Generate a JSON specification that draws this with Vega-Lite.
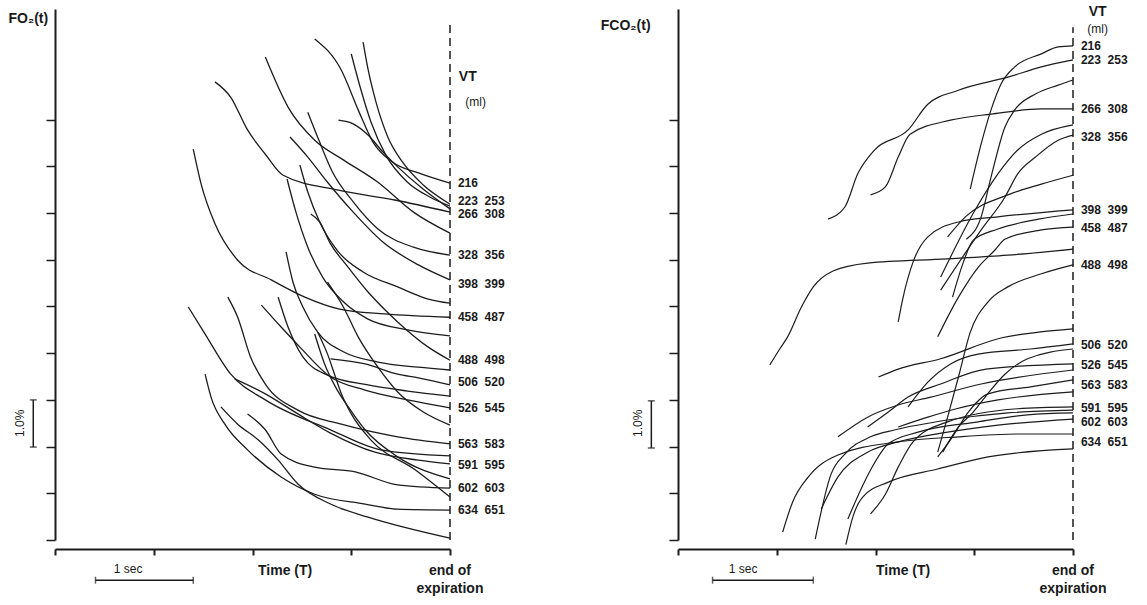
{
  "$schema": "https://vega.github.io/schema/vega-lite/v6.json",
  "background": "white",
  "padding": {"left": 8, "top": 5, "right": 5, "bottom": 5},
  "bounds": "flush",
  "spacing": 228,
  "config": {"view": {"stroke": null}, "font": "Liberation Sans", "text": {"font": "Liberation Sans", "fill": "#1a1a1a"}},
  "datasets": {
    "o2": [
      {"c":"L1","t":-1.37,"y":10.73},{"c":"L1","t":-1.10,"y":10.06},{"c":"L1","t":-0.93,"y":9.21},{"c":"L1","t":-0.78,"y":8.52},{"c":"L1","t":-0.58,"y":8.09},{"c":"L1","t":-0.32,"y":7.86},{"c":"L1","t":0,"y":7.64},
      {"c":"L2","t":-0.88,"y":10.66},{"c":"L2","t":-0.83,"y":10.08},{"c":"L2","t":-0.75,"y":9.38},{"c":"L2","t":-0.63,"y":8.63},{"c":"L2","t":-0.48,"y":8.09},{"c":"L2","t":-0.27,"y":7.60},{"c":"L2","t":0,"y":7.19},
      {"c":"L3","t":-1.00,"y":10.41},{"c":"L3","t":-0.91,"y":9.70},{"c":"L3","t":-0.80,"y":8.95},{"c":"L3","t":-0.65,"y":8.24},{"c":"L3","t":-0.43,"y":7.66},{"c":"L3","t":-0.20,"y":7.34},{"c":"L3","t":0,"y":7.15},
      {"c":"L4","t":-2.38,"y":9.81},{"c":"L4","t":-2.22,"y":9.48},{"c":"L4","t":-2.05,"y":8.78},{"c":"L4","t":-1.87,"y":8.26},{"c":"L4","t":-1.69,"y":7.81},{"c":"L4","t":-1.13,"y":7.49},{"c":"L4","t":-0.56,"y":7.28},{"c":"L4","t":0,"y":7.02},
      {"c":"L5","t":-1.87,"y":10.34},{"c":"L5","t":-1.64,"y":9.27},{"c":"L5","t":-1.37,"y":8.56},{"c":"L5","t":-1.08,"y":8.14},{"c":"L5","t":-0.73,"y":7.66},{"c":"L5","t":-0.37,"y":7.02},{"c":"L5","t":0,"y":6.57},
      {"c":"L6","t":-1.44,"y":9.16},{"c":"L6","t":-1.32,"y":8.52},{"c":"L6","t":-1.19,"y":7.88},{"c":"L6","t":-0.98,"y":7.24},{"c":"L6","t":-0.73,"y":6.66},{"c":"L6","t":-0.37,"y":6.27},{"c":"L6","t":0,"y":6.10},
      {"c":"L7","t":-1.62,"y":8.63},{"c":"L7","t":-1.44,"y":8.20},{"c":"L7","t":-1.24,"y":7.66},{"c":"L7","t":-0.98,"y":7.02},{"c":"L7","t":-0.68,"y":6.38},{"c":"L7","t":-0.32,"y":5.89},{"c":"L7","t":0,"y":5.57},
      {"c":"L8","t":-1.52,"y":8.03},{"c":"L8","t":-1.44,"y":7.45},{"c":"L8","t":-1.32,"y":6.81},{"c":"L8","t":-1.13,"y":6.17},{"c":"L8","t":-0.88,"y":5.74},{"c":"L8","t":-0.53,"y":5.42},{"c":"L8","t":-0.22,"y":5.16},{"c":"L8","t":0,"y":5.07},
      {"c":"L9","t":-2.60,"y":8.37},{"c":"L9","t":-2.52,"y":7.62},{"c":"L9","t":-2.38,"y":6.77},{"c":"L9","t":-2.15,"y":5.99},{"c":"L9","t":-1.81,"y":5.57},{"c":"L9","t":-1.47,"y":5.20},{"c":"L9","t":-1.13,"y":4.95},{"c":"L9","t":-0.66,"y":4.84},{"c":"L9","t":0,"y":4.77},
      {"c":"L10","t":-1.65,"y":7.73},{"c":"L10","t":-1.56,"y":7.02},{"c":"L10","t":-1.44,"y":6.27},{"c":"L10","t":-1.29,"y":5.63},{"c":"L10","t":-1.08,"y":5.10},{"c":"L10","t":-0.83,"y":4.73},{"c":"L10","t":-0.43,"y":4.50},{"c":"L10","t":0,"y":4.37},
      {"c":"L11","t":-1.41,"y":6.98},{"c":"L11","t":-1.32,"y":6.81},{"c":"L11","t":-1.21,"y":6.34},{"c":"L11","t":-1.05,"y":5.89},{"c":"L11","t":-0.83,"y":5.31},{"c":"L11","t":-0.53,"y":4.67},{"c":"L11","t":-0.22,"y":4.13},{"c":"L11","t":0,"y":3.85},
      {"c":"L12","t":-1.66,"y":6.17},{"c":"L12","t":-1.59,"y":5.52},{"c":"L12","t":-1.49,"y":4.99},{"c":"L12","t":-1.34,"y":4.45},{"c":"L12","t":-1.08,"y":4.03},{"c":"L12","t":-0.73,"y":3.81},{"c":"L12","t":-0.32,"y":3.70},{"c":"L12","t":0,"y":3.64},
      {"c":"L13","t":-1.13,"y":8.99},{"c":"L13","t":-0.98,"y":8.91},{"c":"L13","t":-0.83,"y":8.67},{"c":"L13","t":-0.68,"y":8.31},{"c":"L13","t":-0.53,"y":7.99},{"c":"L13","t":-0.27,"y":7.51},{"c":"L13","t":0,"y":7.09},
      {"c":"L14","t":-1.21,"y":3.88},{"c":"L14","t":-0.86,"y":3.77},{"c":"L14","t":-0.53,"y":3.55},{"c":"L14","t":-0.32,"y":3.47},{"c":"L14","t":0,"y":3.32},
      {"c":"L15","t":-1.74,"y":5.20},{"c":"L15","t":-1.64,"y":4.56},{"c":"L15","t":-1.49,"y":3.92},{"c":"L15","t":-1.24,"y":3.53},{"c":"L15","t":-0.83,"y":3.32},{"c":"L15","t":-0.43,"y":3.19},{"c":"L15","t":0,"y":3.08},
      {"c":"L16","t":-1.91,"y":5.03},{"c":"L16","t":-1.71,"y":4.56},{"c":"L16","t":-1.52,"y":4.13},{"c":"L16","t":-1.21,"y":3.49},{"c":"L16","t":-0.86,"y":3.21},{"c":"L16","t":-0.43,"y":3.00},{"c":"L16","t":0,"y":2.83},
      {"c":"L17","t":-1.24,"y":5.52},{"c":"L17","t":-1.08,"y":4.99},{"c":"L17","t":-0.93,"y":4.35},{"c":"L17","t":-0.73,"y":3.70},{"c":"L17","t":-0.53,"y":3.17},{"c":"L17","t":-0.27,"y":2.74},{"c":"L17","t":0,"y":2.46},
      {"c":"L18","t":-2.25,"y":5.20},{"c":"L18","t":-2.15,"y":4.77},{"c":"L18","t":-2.02,"y":3.92},{"c":"L18","t":-1.87,"y":3.34},{"c":"L18","t":-1.54,"y":2.78},{"c":"L18","t":-1.10,"y":2.48},{"c":"L18","t":-0.53,"y":2.21},{"c":"L18","t":0,"y":2.06},
      {"c":"L19","t":-2.65,"y":4.99},{"c":"L19","t":-2.48,"y":4.41},{"c":"L19","t":-2.22,"y":3.55},{"c":"L19","t":-1.87,"y":3.00},{"c":"L19","t":-1.21,"y":2.36},{"c":"L19","t":-0.70,"y":1.93},{"c":"L19","t":0,"y":1.80},
      {"c":"L20","t":-2.18,"y":3.45},{"c":"L20","t":-1.87,"y":3.13},{"c":"L20","t":-1.54,"y":2.70},{"c":"L20","t":-1.21,"y":2.29},{"c":"L20","t":-0.76,"y":1.88},{"c":"L20","t":-0.32,"y":1.71},{"c":"L20","t":0,"y":1.63},
      {"c":"L21","t":-1.37,"y":4.41},{"c":"L21","t":-1.27,"y":3.77},{"c":"L21","t":-1.16,"y":3.28},{"c":"L21","t":-1.03,"y":2.85},{"c":"L21","t":-0.86,"y":2.36},{"c":"L21","t":-0.53,"y":1.78},{"c":"L21","t":0,"y":1.31},
      {"c":"L22","t":-2.05,"y":2.70},{"c":"L22","t":-1.87,"y":2.36},{"c":"L22","t":-1.71,"y":1.84},{"c":"L22","t":-1.37,"y":1.56},{"c":"L22","t":-0.96,"y":1.46},{"c":"L22","t":-0.53,"y":1.18},{"c":"L22","t":0,"y":1.11},
      {"c":"L23","t":-1.34,"y":4.45},{"c":"L23","t":-1.24,"y":3.98},{"c":"L23","t":-1.16,"y":3.49},{"c":"L23","t":-1.10,"y":3.13},{"c":"L23","t":-1.00,"y":2.70},{"c":"L23","t":-0.80,"y":2.14},{"c":"L23","t":-0.35,"y":1.50},{"c":"L23","t":0,"y":0.92},
      {"c":"L24","t":-2.48,"y":3.55},{"c":"L24","t":-2.42,"y":3.06},{"c":"L24","t":-2.28,"y":2.48},{"c":"L24","t":-2.05,"y":1.93},{"c":"L24","t":-1.71,"y":1.35},{"c":"L24","t":-1.37,"y":0.98},{"c":"L24","t":-0.86,"y":0.77},{"c":"L24","t":-0.53,"y":0.66},{"c":"L24","t":0,"y":0.64},
      {"c":"L25","t":-2.32,"y":2.85},{"c":"L25","t":-2.15,"y":2.48},{"c":"L25","t":-1.94,"y":2.14},{"c":"L25","t":-1.74,"y":1.71},{"c":"L25","t":-1.54,"y":1.20},{"c":"L25","t":-1.21,"y":0.77},{"c":"L25","t":-0.83,"y":0.49},{"c":"L25","t":0,"y":0.04}
    ],
    "co2": [
      {"c":"R1","t":-1.04,"y":7.52},{"c":"R1","t":-0.93,"y":8.48},{"c":"R1","t":-0.83,"y":9.21},{"c":"R1","t":-0.73,"y":9.76},{"c":"R1","t":-0.59,"y":10.13},{"c":"R1","t":-0.32,"y":10.41},{"c":"R1","t":-0.15,"y":10.56},{"c":"R1","t":0,"y":10.58},
      {"c":"R2","t":-2.48,"y":6.87},{"c":"R2","t":-2.31,"y":7.13},{"c":"R2","t":-2.18,"y":7.84},{"c":"R2","t":-2.01,"y":8.35},{"c":"R2","t":-1.67,"y":8.78},{"c":"R2","t":-1.47,"y":9.33},{"c":"R2","t":-1.16,"y":9.63},{"c":"R2","t":-0.66,"y":9.91},{"c":"R2","t":-0.32,"y":10.13},{"c":"R2","t":0,"y":10.28},
      {"c":"R3","t":-2.05,"y":7.39},{"c":"R3","t":-1.90,"y":7.56},{"c":"R3","t":-1.77,"y":8.20},{"c":"R3","t":-1.65,"y":8.69},{"c":"R3","t":-1.24,"y":8.99},{"c":"R3","t":-0.83,"y":9.12},{"c":"R3","t":-0.32,"y":9.23},{"c":"R3","t":0,"y":9.23},
      {"c":"R4","t":-1.08,"y":6.44},{"c":"R4","t":-0.93,"y":6.92},{"c":"R4","t":-0.83,"y":7.77},{"c":"R4","t":-0.69,"y":8.84},{"c":"R4","t":-0.59,"y":9.21},{"c":"R4","t":-0.38,"y":9.55},{"c":"R4","t":-0.15,"y":9.74},{"c":"R4","t":0,"y":9.85},
      {"c":"R5","t":-1.34,"y":5.63},{"c":"R5","t":-0.99,"y":7.07},{"c":"R5","t":-0.76,"y":7.84},{"c":"R5","t":-0.56,"y":8.35},{"c":"R5","t":-0.32,"y":8.69},{"c":"R5","t":0,"y":8.89},
      {"c":"R6","t":-1.34,"y":5.35},{"c":"R6","t":-0.93,"y":6.64},{"c":"R6","t":-0.69,"y":7.34},{"c":"R6","t":-0.56,"y":7.84},{"c":"R6","t":-0.38,"y":8.20},{"c":"R6","t":-0.15,"y":8.56},{"c":"R6","t":0,"y":8.67},
      {"c":"R7","t":-1.27,"y":6.49},{"c":"R7","t":-1.09,"y":6.92},{"c":"R7","t":-0.66,"y":7.39},{"c":"R7","t":-0.32,"y":7.62},{"c":"R7","t":0,"y":7.81},
      {"c":"R8","t":-1.77,"y":4.67},{"c":"R8","t":-1.72,"y":5.20},{"c":"R8","t":-1.62,"y":5.95},{"c":"R8","t":-1.47,"y":6.49},{"c":"R8","t":-1.16,"y":6.81},{"c":"R8","t":-0.76,"y":6.92},{"c":"R8","t":0,"y":7.07},
      {"c":"R9","t":-1.22,"y":5.20},{"c":"R9","t":-1.11,"y":5.95},{"c":"R9","t":-1.01,"y":6.42},{"c":"R9","t":-0.76,"y":6.66},{"c":"R9","t":-0.35,"y":6.87},{"c":"R9","t":0,"y":6.98},
      {"c":"R10","t":-1.37,"y":4.35},{"c":"R10","t":-1.16,"y":5.20},{"c":"R10","t":-0.96,"y":5.84},{"c":"R10","t":-0.79,"y":6.21},{"c":"R10","t":-0.69,"y":6.44},{"c":"R10","t":-0.32,"y":6.64},{"c":"R10","t":0,"y":6.70},
      {"c":"R11","t":-3.07,"y":3.75},{"c":"R11","t":-2.97,"y":4.09},{"c":"R11","t":-2.89,"y":4.35},{"c":"R11","t":-2.75,"y":4.99},{"c":"R11","t":-2.63,"y":5.42},{"c":"R11","t":-2.43,"y":5.76},{"c":"R11","t":-2.08,"y":5.93},{"c":"R11","t":-1.27,"y":6.02},{"c":"R11","t":-0.66,"y":6.10},{"c":"R11","t":0,"y":6.23},
      {"c":"R12","t":-1.37,"y":1.88},{"c":"R12","t":-1.27,"y":2.63},{"c":"R12","t":-1.16,"y":3.49},{"c":"R12","t":-1.04,"y":4.45},{"c":"R12","t":-0.86,"y":5.10},{"c":"R12","t":-0.66,"y":5.42},{"c":"R12","t":-0.32,"y":5.70},{"c":"R12","t":0,"y":5.89},
      {"c":"R13","t":-1.97,"y":3.49},{"c":"R13","t":-1.77,"y":3.66},{"c":"R13","t":-1.34,"y":3.88},{"c":"R13","t":-0.72,"y":4.33},{"c":"R13","t":-0.35,"y":4.45},{"c":"R13","t":0,"y":4.52},
      {"c":"R14","t":-1.67,"y":2.85},{"c":"R14","t":-1.47,"y":3.38},{"c":"R14","t":-1.24,"y":3.77},{"c":"R14","t":-0.96,"y":3.98},{"c":"R14","t":-0.43,"y":4.09},{"c":"R14","t":0,"y":4.20},
      {"c":"R15","t":-1.32,"y":1.88},{"c":"R15","t":-1.16,"y":2.42},{"c":"R15","t":-1.01,"y":2.74},{"c":"R15","t":-0.89,"y":3.06},{"c":"R15","t":-0.69,"y":3.55},{"c":"R15","t":-0.46,"y":3.88},{"c":"R15","t":0,"y":4.09},
      {"c":"R16","t":-2.08,"y":2.42},{"c":"R16","t":-1.87,"y":2.74},{"c":"R16","t":-1.67,"y":3.06},{"c":"R16","t":-1.34,"y":3.34},{"c":"R16","t":-0.88,"y":3.66},{"c":"R16","t":0,"y":3.77},
      {"c":"R17","t":-2.38,"y":2.21},{"c":"R17","t":-2.08,"y":2.63},{"c":"R17","t":-1.77,"y":2.89},{"c":"R17","t":-1.44,"y":3.06},{"c":"R17","t":-0.93,"y":3.34},{"c":"R17","t":0,"y":3.64},
      {"c":"R18","t":-1.37,"y":1.78},{"c":"R18","t":-1.22,"y":2.21},{"c":"R18","t":-1.06,"y":2.74},{"c":"R18","t":-0.86,"y":3.13},{"c":"R18","t":-0.43,"y":3.28},{"c":"R18","t":0,"y":3.43},
      {"c":"R19","t":-1.77,"y":2.42},{"c":"R19","t":-1.47,"y":2.63},{"c":"R19","t":-1.18,"y":2.81},{"c":"R19","t":-0.76,"y":3.00},{"c":"R19","t":0,"y":3.17},
      {"c":"R20","t":-2.05,"y":0.56},{"c":"R20","t":-1.90,"y":0.98},{"c":"R20","t":-1.77,"y":1.56},{"c":"R20","t":-1.62,"y":2.10},{"c":"R20","t":-1.27,"y":2.53},{"c":"R20","t":-0.56,"y":2.81},{"c":"R20","t":0,"y":2.85},
      {"c":"R21","t":-2.61,"y":0.02},{"c":"R21","t":-2.45,"y":1.41},{"c":"R21","t":-2.31,"y":1.84},{"c":"R21","t":-2.05,"y":2.21},{"c":"R21","t":-1.80,"y":2.36},{"c":"R21","t":-1.27,"y":2.57},{"c":"R21","t":-0.66,"y":2.72},{"c":"R21","t":0,"y":2.78},
      {"c":"R22","t":-2.28,"y":0.45},{"c":"R22","t":-2.05,"y":1.50},{"c":"R22","t":-1.87,"y":2.06},{"c":"R22","t":-1.57,"y":2.31},{"c":"R22","t":-0.96,"y":2.53},{"c":"R22","t":-0.46,"y":2.68},{"c":"R22","t":0,"y":2.72},
      {"c":"R23","t":-2.55,"y":0.66},{"c":"R23","t":-2.38,"y":1.35},{"c":"R23","t":-2.08,"y":1.88},{"c":"R23","t":-1.77,"y":2.10},{"c":"R23","t":-1.27,"y":2.31},{"c":"R23","t":-0.76,"y":2.46},{"c":"R23","t":0,"y":2.59},
      {"c":"R24","t":-2.94,"y":0.17},{"c":"R24","t":-2.84,"y":0.81},{"c":"R24","t":-2.68,"y":1.35},{"c":"R24","t":-2.38,"y":1.82},{"c":"R24","t":-1.77,"y":2.10},{"c":"R24","t":-1.16,"y":2.21},{"c":"R24","t":-0.53,"y":2.27},{"c":"R24","t":0,"y":2.27},
      {"c":"R25","t":-2.30,"y":-0.10},{"c":"R25","t":-2.23,"y":0.49},{"c":"R25","t":-2.13,"y":0.92},{"c":"R25","t":-1.87,"y":1.24},{"c":"R25","t":-1.37,"y":1.52},{"c":"R25","t":-0.86,"y":1.78},{"c":"R25","t":0,"y":1.95}
    ],
    "o2_labels": [
      {"t":0.08,"y":7.64,"label":"216"},{"t":0.08,"y":7.26,"label":"223\u00a0\u00a0253"},{"t":0.08,"y":6.98,"label":"266\u00a0\u00a0308"},
      {"t":0.08,"y":6.10,"label":"328\u00a0\u00a0356"},{"t":0.08,"y":5.48,"label":"398\u00a0\u00a0399"},{"t":0.08,"y":4.77,"label":"458\u00a0\u00a0487"},
      {"t":0.08,"y":3.85,"label":"488\u00a0\u00a0498"},{"t":0.08,"y":3.38,"label":"506\u00a0\u00a0520"},{"t":0.08,"y":2.83,"label":"526\u00a0\u00a0545"},
      {"t":0.08,"y":2.06,"label":"563\u00a0\u00a0583"},{"t":0.08,"y":1.61,"label":"591\u00a0\u00a0595"},{"t":0.08,"y":1.11,"label":"602\u00a0\u00a0603"},
      {"t":0.08,"y":0.64,"label":"634\u00a0\u00a0651"}
    ],
    "co2_labels": [
      {"t":0.08,"y":10.58,"label":"216"},{"t":0.08,"y":10.28,"label":"223\u00a0\u00a0253"},{"t":0.08,"y":9.23,"label":"266\u00a0\u00a0308"},
      {"t":0.08,"y":8.63,"label":"328\u00a0\u00a0356"},{"t":0.08,"y":7.07,"label":"398\u00a0\u00a0399"},{"t":0.08,"y":6.68,"label":"458\u00a0\u00a0487"},
      {"t":0.08,"y":5.89,"label":"488\u00a0\u00a0498"},{"t":0.08,"y":4.18,"label":"506\u00a0\u00a0520"},{"t":0.08,"y":3.75,"label":"526\u00a0\u00a0545"},
      {"t":0.08,"y":3.32,"label":"563\u00a0\u00a0583"},{"t":0.08,"y":2.83,"label":"591\u00a0\u00a0595"},{"t":0.08,"y":2.53,"label":"602\u00a0\u00a0603"},
      {"t":0.08,"y":2.10,"label":"634\u00a0\u00a0651"}
    ]
  },
  "hconcat": [
    {
      "width": 395, "height": 531,
      "encoding": {
        "x": {"field": "t", "type": "quantitative", "title": null, "scale": {"domain": [-4, 0], "nice": false, "zero": false},
              "axis": {"values": [-4, -3, -2, -1, 0], "labels": false, "title": null, "grid": false, "offset": 9, "tickSize": 6, "tickWidth": 2, "domainWidth": 2, "domainColor": "#1c1c1c", "tickColor": "#1c1c1c"}},
        "y": {"field": "y", "type": "quantitative", "title": null, "scale": {"domain": [0, 11.37], "nice": false, "zero": false},
              "axis": {"values": [0, 1, 2, 3, 4, 5, 6, 7, 8, 9], "labels": false, "title": null, "grid": false, "tickSize": 9, "tickWidth": 1.5, "domainWidth": 2, "domainColor": "#1c1c1c", "tickColor": "#1c1c1c"}}
      },
      "layer": [
        {
          "data": {"name": "o2"},
          "mark": {"type": "line", "interpolate": "monotone", "stroke": "#1c1c1c", "strokeWidth": 1.3},
          "encoding": {"detail": {"field": "c"}}
        },
        {
          "data": {"values": [{"t": 0, "y": 0, "y2": 11.13}]},
          "mark": {"type": "rule", "strokeDash": [8, 5], "strokeWidth": 1.5, "color": "#1c1c1c"},
          "encoding": {"y2": {"field": "y2"}}
        },
        {
          "data": {"name": "o2_labels"},
          "mark": {"type": "text", "align": "left", "baseline": "middle", "fontSize": 12, "fontWeight": "bold"},
          "encoding": {"text": {"field": "label"}}
        },
        {
          "data": {"values": [{"t": 0.18, "y": 9.91, "label": "VT"}, {"t": -1.67, "y": -0.66, "label": "Time (T)"}, {"t": 0, "y": -0.66, "label": "end of"}, {"t": 0, "y": -1.05, "label": "expiration"}, {"t": -4.27, "y": 11.16, "label": "FO₂(t)"}]},
          "mark": {"type": "text", "align": "center", "baseline": "middle", "fontSize": 14, "fontWeight": "bold"},
          "encoding": {"text": {"field": "label"}}
        },
        {
          "data": {"values": [{"t": 0.26, "y": 9.38, "label": "(ml)"}, {"t": -3.26, "y": -0.62, "label": "1 sec"}]},
          "mark": {"type": "text", "align": "center", "baseline": "middle", "fontSize": 12},
          "encoding": {"text": {"field": "label"}}
        },
        {
          "data": {"values": [{"t": -4.35, "y": 2.5, "label": "1.0%"}]},
          "mark": {"type": "text", "align": "center", "baseline": "middle", "fontSize": 12, "angle": 270},
          "encoding": {"text": {"field": "label"}}
        },
        {
          "data": {"values": [{"t": -3.59, "t2": -2.60, "y": -0.86}]},
          "mark": {"type": "rule", "strokeWidth": 1.5, "color": "#1c1c1c"},
          "encoding": {"x2": {"field": "t2"}}
        },
        {
          "data": {"values": [{"t": -3.59, "y": -0.86}, {"t": -2.60, "y": -0.86}]},
          "mark": {"type": "tick", "orient": "vertical", "size": 7, "thickness": 1.5, "color": "#1c1c1c"},
          "encoding": {}
        },
        {
          "data": {"values": [{"t": -4.22, "y": 1.99, "y2": 3.0}]},
          "mark": {"type": "rule", "strokeWidth": 1.5, "color": "#1c1c1c"},
          "encoding": {"y2": {"field": "y2"}}
        },
        {
          "data": {"values": [{"t": -4.22, "y": 1.99}, {"t": -4.22, "y": 3.0}]},
          "mark": {"type": "tick", "orient": "horizontal", "size": 7, "thickness": 1.5, "color": "#1c1c1c"},
          "encoding": {}
        }
      ]
    },
    {
      "width": 395, "height": 531,
      "encoding": {
        "x": {"field": "t", "type": "quantitative", "title": null, "scale": {"domain": [-4, 0], "nice": false, "zero": false},
              "axis": {"values": [-4, -3, -2, -1, 0], "labels": false, "title": null, "grid": false, "offset": 9, "tickSize": 6, "tickWidth": 2, "domainWidth": 2, "domainColor": "#1c1c1c", "tickColor": "#1c1c1c"}},
        "y": {"field": "y", "type": "quantitative", "title": null, "scale": {"domain": [0, 11.37], "nice": false, "zero": false},
              "axis": {"values": [0, 1, 2, 3, 4, 5, 6, 7, 8, 9], "labels": false, "title": null, "grid": false, "tickSize": 9, "tickWidth": 1.5, "domainWidth": 2, "domainColor": "#1c1c1c", "tickColor": "#1c1c1c"}}
      },
      "layer": [
        {
          "data": {"name": "co2"},
          "mark": {"type": "line", "interpolate": "monotone", "stroke": "#1c1c1c", "strokeWidth": 1.2},
          "encoding": {"detail": {"field": "c"}}
        },
        {
          "data": {"values": [{"t": 0, "y": 0, "y2": 10.98}]},
          "mark": {"type": "rule", "strokeDash": [8, 5], "strokeWidth": 1.5, "color": "#1c1c1c"},
          "encoding": {"y2": {"field": "y2"}}
        },
        {
          "data": {"name": "co2_labels"},
          "mark": {"type": "text", "align": "left", "baseline": "middle", "fontSize": 12, "fontWeight": "bold"},
          "encoding": {"text": {"field": "label"}}
        },
        {
          "data": {"values": [{"t": 0.25, "y": 11.3, "label": "VT"}, {"t": -1.72, "y": -0.66, "label": "Time (T)"}, {"t": 0, "y": -0.66, "label": "end of"}, {"t": 0, "y": -1.05, "label": "expiration"}, {"t": -4.53, "y": 11.0, "label": "FCO₂(t)"}]},
          "mark": {"type": "text", "align": "center", "baseline": "middle", "fontSize": 14, "fontWeight": "bold"},
          "encoding": {"text": {"field": "label"}}
        },
        {
          "data": {"values": [{"t": 0.25, "y": 10.95, "label": "(ml)"}, {"t": -3.34, "y": -0.62, "label": "1 sec"}]},
          "mark": {"type": "text", "align": "center", "baseline": "middle", "fontSize": 12},
          "encoding": {"text": {"field": "label"}}
        },
        {
          "data": {"values": [{"t": -4.41, "y": 2.5, "label": "1.0%"}]},
          "mark": {"type": "text", "align": "center", "baseline": "middle", "fontSize": 12, "angle": 270},
          "encoding": {"text": {"field": "label"}}
        },
        {
          "data": {"values": [{"t": -3.65, "t2": -2.63, "y": -0.86}]},
          "mark": {"type": "rule", "strokeWidth": 1.5, "color": "#1c1c1c"},
          "encoding": {"x2": {"field": "t2"}}
        },
        {
          "data": {"values": [{"t": -3.65, "y": -0.86}, {"t": -2.63, "y": -0.86}]},
          "mark": {"type": "tick", "orient": "vertical", "size": 7, "thickness": 1.5, "color": "#1c1c1c"},
          "encoding": {}
        },
        {
          "data": {"values": [{"t": -4.27, "y": 1.97, "y2": 2.98}]},
          "mark": {"type": "rule", "strokeWidth": 1.5, "color": "#1c1c1c"},
          "encoding": {"y2": {"field": "y2"}}
        },
        {
          "data": {"values": [{"t": -4.27, "y": 1.97}, {"t": -4.27, "y": 2.98}]},
          "mark": {"type": "tick", "orient": "horizontal", "size": 7, "thickness": 1.5, "color": "#1c1c1c"},
          "encoding": {}
        }
      ]
    }
  ]
}
